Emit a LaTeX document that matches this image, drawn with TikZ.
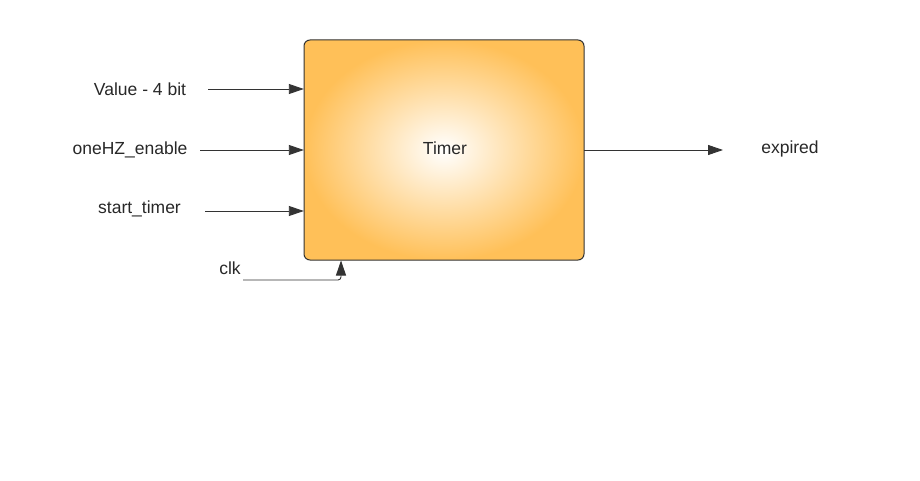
\documentclass[tikz,border=0pt]{standalone}
\usepackage{fontspec}
\setmainfont{Liberation Sans}
\usetikzlibrary{arrows.meta}
\definecolor{timerorange}{RGB}{255,192,88}
\definecolor{linegray}{RGB}{51,51,51}
\definecolor{txtgray}{RGB}{40,40,40}
\begin{document}
\begin{tikzpicture}[x=1pt,y=-1pt,
  lbl/.style={text=txtgray,font=\fontsize{17.5}{20}\selectfont,inner sep=0pt},
  sig/.style={draw=linegray,line width=0.9pt,-{Triangle[length=15pt,width=10pt]}},
  block/.style={draw=linegray,line width=1pt,rounded corners=6pt,
    shading=radial,inner color=white,outer color=timerorange}]
\useasboundingbox (0,0) rectangle (920,481);
\fill[white] (0,0) rectangle (920,481);
\path[block] (304,40) rectangle (584,260);
\node[inner sep=0pt,minimum width=280pt,minimum height=220pt] (timer) at (444,150) {};
\node[lbl] at (445,148) {Timer};
% labels
\node[lbl] (lv) at (140,89) {Value - 4 bit};
\node[lbl] (lo) at (130,150) {oneHZ\_enable};
\node[lbl] (ls) at (139.5,209) {start\_timer};
\node[lbl] (lc) at (230,268) {clk};
\node[lbl] (le) at (790,149) {expired};
% connector endpoints
\coordinate (sv) at (208,89);
\coordinate (so) at (200,150);
\coordinate (ss) at (205,211);
\coordinate (sc) at (243,280);
\coordinate (eo) at (723,150);
\draw[sig] (sv) -- (sv -| timer.west);
\draw[sig] (so) -- (so -| timer.west);
\draw[sig] (ss) -- (ss -| timer.west);
\draw[sig] (timer.east |- eo) -- (eo);
\draw[sig,rounded corners=3pt] (sc) -- (341,280) -- (341,260.5);
\end{tikzpicture}
\end{document}
